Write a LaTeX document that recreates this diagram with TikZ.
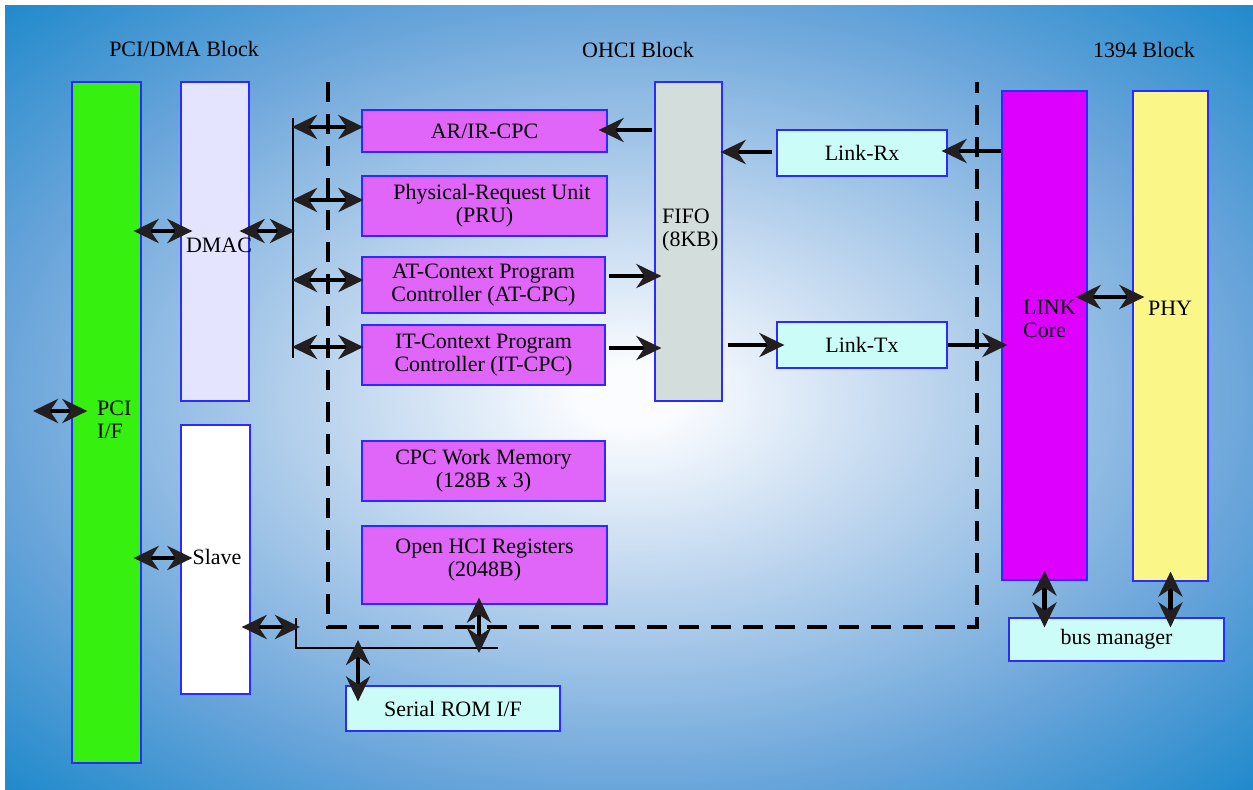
\documentclass[tikz,border=0pt]{standalone}
\usepackage{fontspec}
\setmainfont{Liberation Serif}
\usepackage{tikz}
\usetikzlibrary{arrows.meta}
\definecolor{bgwhite}{HTML}{FAFCFF}
\definecolor{bglight}{HTML}{BDD5EE}
\definecolor{bgmid}{HTML}{6AA5DA}
\definecolor{bgcorner}{HTML}{1C88CB}
\definecolor{pcigreen}{HTML}{36F00F}
\definecolor{dmacblue}{HTML}{E4E4FF}
\definecolor{cpcpink}{HTML}{E066FA}
\definecolor{fifogray}{HTML}{D3DEDC}
\definecolor{linkcyan}{HTML}{CCFCF8}
\definecolor{coremag}{HTML}{DD00FF}
\definecolor{phyyellow}{HTML}{FAF688}
\definecolor{edgeblue}{HTML}{2B2BFF}
\definecolor{headgray}{HTML}{231F20}
\pgfdeclareradialshading{bgshade}{\pgfpoint{0bp}{0bp}}{color(0bp)=(bgwhite); color(2bp)=(bgwhite); color(12bp)=(bglight); color(25bp)=(bgmid); color(36bp)=(bgcorner); color(50bp)=(bgcorner)}

\begin{document}
\begin{tikzpicture}[x=0.02cm,y=-0.02cm,
		font=\fontsize{12.5}{13}\selectfont,
		blk/.style={draw=edgeblue, line width=0.7pt, rectangle, inner sep=0pt, align=center},
		dbl/.style={line width=2.8pt, {Stealth[length=0.5cm, width=0.48cm, inset=0.16cm, color=headgray]}-{Stealth[length=0.5cm, width=0.48cm, inset=0.16cm, color=headgray]}},
		sgl/.style={line width=2.8pt, -{Stealth[length=0.5cm, width=0.48cm, inset=0.16cm, color=headgray]}},
		bus/.style={line width=1.3pt},
		ohci/.style={line width=2.8pt, dash pattern=on 0.4cm off 0.24cm}]
	\useasboundingbox (0,0) rectangle (1253,789);
	\shade[shading=bgshade] (5,5) rectangle (1253,789);
	%\draw[step=50,color=gray] (0,0) grid (1253,789);

	% block titles
	\node (tpci) at (184,49) {PCI/DMA Block};
	\node (tohci) at (638,50) {OHCI Block};
	\node (t1394) at (1144,50) {1394 Block};

	% OHCI boundary
	\draw[ohci] (328,82) -- (328,627) -- (977,627) -- (977,82);

	% PCI/DMA side
	\node[blk, fill=pcigreen, minimum width=1.38cm, minimum height=13.62cm] (pci) at (106.5,422.5) {};
	\node[anchor=west, align=left] (pcit) at (91,420) {PCI\\I/F};
	\node[blk, fill=dmacblue, minimum width=1.36cm, minimum height=6.38cm] (dmac) at (215,241.5) {};
	\node (dmact) at (219,245) {DMAC};
	\node[blk, fill=white, minimum width=1.38cm, minimum height=5.38cm] (slave) at (215.5,559.5) {};
	\node (slavet) at (217,557) {Slave};

	% OHCI side
	\node[blk, fill=cpcpink, minimum width=4.9cm, minimum height=0.84cm] (arir) at (484.5,131) {AR/IR-CPC};
	\node[blk, fill=cpcpink, minimum width=4.9cm, minimum height=1.2cm] (pru) at (484.5,206) {\hspace*{0.3cm}Physical-Request Unit\\(PRU)};
	\node[blk, fill=cpcpink, minimum width=4.86cm, minimum height=1.12cm] (atcpc) at (483.5,285) {AT-Context Program\\Controller (AT-CPC)};
	\node[blk, fill=cpcpink, minimum width=4.86cm, minimum height=1.2cm] (itcpc) at (483.5,355) {IT-Context Program\\Controller (IT-CPC)};
	\node[blk, fill=cpcpink, minimum width=4.86cm, minimum height=1.2cm] (cpcmem) at (483.5,471) {CPC Work Memory\\(128B x 3)};
	\node[blk, fill=cpcpink, minimum width=4.9cm, minimum height=1.56cm, text depth=0.3cm] (ohcireg) at (484.5,565) {Open HCI Registers\\(2048B)};
	\node[blk, fill=fifogray, minimum width=1.34cm, minimum height=6.38cm] (fifo) at (688.5,241.5) {};
	\node[anchor=west, align=left] (fifot) at (656,230) {FIFO\\(8KB)};
	\node[blk, fill=linkcyan, minimum width=3.4cm, minimum height=0.92cm] (linkrx) at (862,153) {Link-Rx};
	\node[blk, fill=linkcyan, minimum width=3.4cm, minimum height=0.92cm] (linktx) at (862,345) {Link-Tx};
	\node[blk, fill=linkcyan, minimum width=4.28cm, minimum height=0.9cm] (srom) at (453,708.5) {Serial ROM I/F};

	% 1394 side
	\node[blk, fill=coremag, minimum width=1.7cm, minimum height=9.78cm] (linkcore) at (1044.5,335.5) {};
	\node[anchor=west, align=left] (linkcoret) at (1017,319) {LINK\\Core};
	\node[blk, fill=phyyellow, minimum width=1.5cm, minimum height=9.8cm] (phy) at (1170.5,336) {};
	\node (phyt) at (1170,308) {PHY};
	\node[blk, fill=linkcyan, minimum width=4.3cm, minimum height=0.86cm] (busmgr) at (1116.5,639.5) {bus manager};

	% internal buses
	\coordinate (busT) at (293,118);
	\coordinate (busB) at (293,358);
	\draw[bus] (busT) -- (busB);
	\coordinate (sbT) at (296,618);
	\coordinate (sbL) at (296,648);
	\coordinate (sbR) at (498,648);
	\draw[bus] (sbT) -- (sbL) -- (sbR);

	% PCI/DMA connectors
	\coordinate (ext) at (33,411);
	\draw[dbl, shorten >=-0.32cm] (ext) -- (ext -| pci.west);
	\draw[dbl, shorten <=-0.16cm, shorten >=-0.24cm] (pci.east |- 0,231) -- (dmac.west |- 0,231);
	\draw[dbl, shorten <=-0.16cm, shorten >=-0.24cm] (pci.east |- 0,558) -- (slave.west |- 0,558);
	\draw[dbl, shorten <=-0.2cm, shorten >=-0.04cm] (dmac.east |- 0,231) -- (busT |- 0,231);
	\draw[dbl, shorten <=-0.18cm, shorten >=-0.08cm] (slave.east |- 0,627) -- (sbT |- 0,627);

	% bus to context programs
	\draw[dbl, shorten <=-0.02cm, shorten >=-0.04cm] (busT |- 0,127) -- (arir.west |- 0,127);
	\draw[dbl, shorten <=-0.02cm, shorten >=-0.04cm] (busT |- 0,200) -- (pru.west |- 0,200);
	\draw[dbl, shorten <=-0.02cm, shorten >=-0.04cm] (busT |- 0,280) -- (atcpc.west |- 0,280);
	\draw[dbl, shorten <=-0.02cm, shorten >=-0.04cm] (busT |- 0,347) -- (itcpc.west |- 0,347);

	% FIFO paths
	\draw[sgl, shorten <=0.04cm, shorten >=-0.18cm] (fifo.west |- 0,130) -- (arir.east |- 0,130);
	\draw[sgl, shorten <=0.08cm, shorten >=-0.04cm] (linkrx.west |- 0,152) -- (fifo.east |- 0,152);
	\draw[sgl, shorten >=-0.12cm] (linkcore.west |- 0,151) -- (linkrx.east |- 0,151);
	\draw[sgl, shorten <=0.06cm, shorten >=-0.14cm] (atcpc.east |- 0,276) -- (fifo.west |- 0,276);
	\draw[sgl, shorten <=0.06cm, shorten >=-0.14cm] (itcpc.east |- 0,348) -- (fifo.west |- 0,348);
	\draw[sgl, shorten <=0.1cm, shorten >=-0.16cm] (fifo.east |- linktx.west) -- (linktx.west);
	\draw[sgl, shorten >=-0.12cm] (linktx.east) -- (linkcore.west |- linktx.east);

	% 1394 connectors
	\draw[dbl, shorten <=-0.24cm, shorten >=-0.24cm] (linkcore.east |- 0,297) -- (phy.west |- 0,297);
	\draw[dbl, shorten <=-0.2cm, shorten >=-0.2cm] (linkcore.south) -- (linkcore.south |- busmgr.north);
	\draw[dbl, shorten <=-0.2cm, shorten >=-0.2cm] (phy.south) -- (phy.south |- busmgr.north);

	% registers and serial ROM
	\draw[dbl, shorten <=-0.14cm, shorten >=-0.1cm] (479,0 |- ohcireg.south) -- (479,0 |- sbL);
	\draw[dbl, shorten <=-0.16cm, shorten >=-0.32cm] (358,0 |- sbL) -- (358,0 |- srom.north);
\end{tikzpicture}
\end{document}
